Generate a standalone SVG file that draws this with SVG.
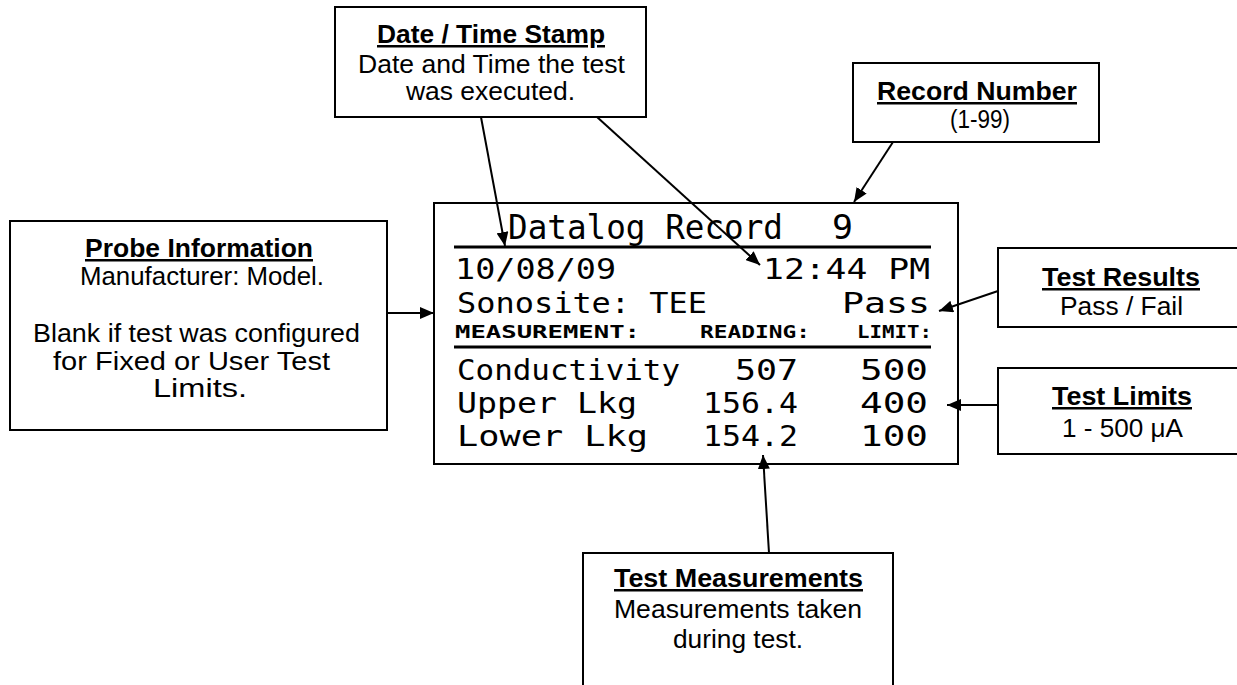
<svg xmlns="http://www.w3.org/2000/svg" width="1237" height="685" viewBox="0 0 1237 685">
<style>
.box{fill:#fff;stroke:#000;stroke-width:2}
.t{font-family:"Liberation Sans",Arial,sans-serif;font-size:25px;fill:#000}
.h{font-weight:bold;text-decoration:underline}
.lcd{font-family:"DejaVu Sans Mono","Liberation Mono",monospace;font-size:28px;fill:#000}
.lcdh{font-family:"DejaVu Sans Mono","Liberation Mono",monospace;font-size:17px;font-weight:bold;fill:#000}
.conn line{stroke:#000;stroke-width:2;marker-end:url(#ah)}
</style>
<defs>
<marker id="ah" markerUnits="userSpaceOnUse" markerWidth="14" markerHeight="12" refX="14" refY="6" orient="auto">
<path d="M0,0 L14,6 L0,12 z" fill="#000"/>
</marker>
</defs>
<rect width="1237" height="685" fill="#fff"/>

<g id="screen">
<rect class="box" x="434" y="203" width="524" height="261"/>
<line x1="454" y1="247" x2="931" y2="247" stroke="#000" stroke-width="3"/>
<line x1="454" y1="347" x2="931" y2="347" stroke="#000" stroke-width="3"/>
<text class="lcd" transform="translate(0,239) scale(1,1.2)" x="508" y="0" textLength="275" lengthAdjust="spacingAndGlyphs">Datalog Record</text>
<text class="lcd" transform="translate(0,239) scale(1,1.2)" x="832" y="0" textLength="21" lengthAdjust="spacingAndGlyphs">9</text>
<text class="lcd" x="455" y="279" textLength="161" lengthAdjust="spacingAndGlyphs">10/08/09</text>
<text class="lcd" x="763" y="279" textLength="167" lengthAdjust="spacingAndGlyphs">12:44 PM</text>
<text class="lcd" x="457" y="313" textLength="250" lengthAdjust="spacingAndGlyphs">Sonosite: TEE</text>
<text class="lcd" x="842" y="313" textLength="88" lengthAdjust="spacingAndGlyphs">Pass</text>
<text class="lcdh" x="455" y="338" textLength="185" lengthAdjust="spacingAndGlyphs">MEASUREMENT:</text>
<text class="lcdh" x="700" y="338" textLength="110" lengthAdjust="spacingAndGlyphs">READING:</text>
<text class="lcdh" x="857" y="338" textLength="75" lengthAdjust="spacingAndGlyphs">LIMIT:</text>
<text class="lcd" x="457" y="380" textLength="223" lengthAdjust="spacingAndGlyphs">Conductivity</text>
<text class="lcd" x="735" y="380" textLength="63" lengthAdjust="spacingAndGlyphs">507</text>
<text class="lcd" x="860" y="380" textLength="68" lengthAdjust="spacingAndGlyphs">500</text>
<text class="lcd" x="457" y="413" textLength="180" lengthAdjust="spacingAndGlyphs">Upper Lkg</text>
<text class="lcd" x="703" y="413" textLength="95" lengthAdjust="spacingAndGlyphs">156.4</text>
<text class="lcd" x="860" y="413" textLength="68" lengthAdjust="spacingAndGlyphs">400</text>
<text class="lcd" x="457" y="446" textLength="191" lengthAdjust="spacingAndGlyphs">Lower Lkg</text>
<text class="lcd" x="703" y="446" textLength="95" lengthAdjust="spacingAndGlyphs">154.2</text>
<text class="lcd" x="860" y="446" textLength="68" lengthAdjust="spacingAndGlyphs">100</text>
</g>

<g id="date-time">
<rect class="box" x="335" y="7" width="311" height="110"/>
<text class="t h" x="377" y="43" textLength="228" lengthAdjust="spacingAndGlyphs">Date / Time Stamp</text>
<text class="t" x="358" y="73" textLength="267" lengthAdjust="spacingAndGlyphs">Date and Time the test</text>
<text class="t" x="406" y="100" textLength="169" lengthAdjust="spacingAndGlyphs">was executed.</text>
</g>

<g id="record-number">
<rect class="box" x="853" y="63" width="246" height="79"/>
<text class="t h" x="877" y="100" textLength="200" lengthAdjust="spacingAndGlyphs">Record Number</text>
<text class="t" x="950" y="128" textLength="60" lengthAdjust="spacingAndGlyphs">(1-99)</text>
</g>

<g id="probe-information">
<rect class="box" x="10" y="221" width="377" height="209"/>
<text class="t h" x="85" y="257" textLength="228" lengthAdjust="spacingAndGlyphs">Probe Information</text>
<text class="t" x="80" y="285" textLength="244" lengthAdjust="spacingAndGlyphs">Manufacturer: Model.</text>
<text class="t" x="33" y="342" textLength="327" lengthAdjust="spacingAndGlyphs">Blank if test was configured</text>
<text class="t" x="53" y="370" textLength="277" lengthAdjust="spacingAndGlyphs">for Fixed or User Test</text>
<text class="t" x="153" y="397" textLength="94" lengthAdjust="spacingAndGlyphs">Limits.</text>
</g>

<g id="test-results">
<rect class="box" x="998" y="248" width="250" height="79"/>
<text class="t h" x="1042" y="286" textLength="158" lengthAdjust="spacingAndGlyphs">Test Results</text>
<text class="t" x="1060" y="315" textLength="123" lengthAdjust="spacingAndGlyphs">Pass / Fail</text>
</g>

<g id="test-limits">
<rect class="box" x="998" y="368" width="250" height="86"/>
<text class="t h" x="1052" y="405" textLength="140" lengthAdjust="spacingAndGlyphs">Test Limits</text>
<text class="t" x="1062" y="437" textLength="121" lengthAdjust="spacingAndGlyphs">1 - 500 μA</text>
</g>

<g id="test-measurements">
<rect class="box" x="583" y="553" width="310" height="150"/>
<text class="t h" x="614" y="587" textLength="249" lengthAdjust="spacingAndGlyphs">Test Measurements</text>
<text class="t" x="614" y="618" textLength="248" lengthAdjust="spacingAndGlyphs">Measurements taken</text>
<text class="t" x="673" y="648" textLength="130" lengthAdjust="spacingAndGlyphs">during test.</text>
</g>

<g id="connectors" class="conn">
<line x1="481" y1="117" x2="505" y2="246"/>
<line x1="597" y1="117" x2="760" y2="265"/>
<line x1="893" y1="142" x2="854" y2="202"/>
<line x1="387" y1="313" x2="434" y2="313"/>
<line x1="998" y1="291" x2="939" y2="311"/>
<line x1="998" y1="405" x2="947" y2="405"/>
<line x1="769" y1="553" x2="763" y2="455"/>
</g>
</svg>
